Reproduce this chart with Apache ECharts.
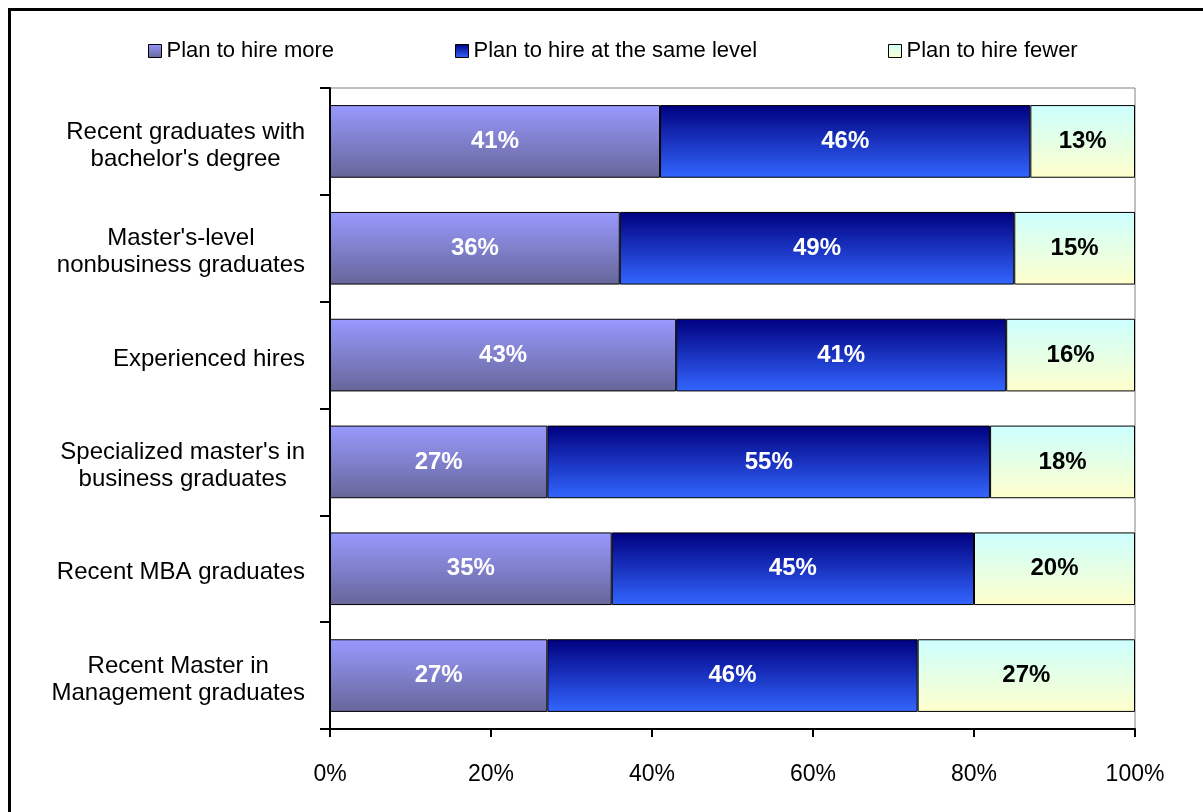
<!DOCTYPE html>
<html>
<head>
<meta charset="utf-8">
<script src="https://cdn.jsdelivr.net/npm/echarts@6/dist/echarts.min.js"></script>
<style>
html,body{margin:0;padding:0;background:#fff;}
#main{width:1203px;height:812px;}
</style>
</head>
<body>
<div id="main"></div>
<script>
var categories = [
  "Recent graduates with\nbachelor's degree",
  "Master's-level\nnonbusiness graduates",
  "Experienced hires",
  "Specialized master's in\nbusiness graduates",
  "Recent MBA graduates",
  "Recent Master in\nManagement graduates"
];
var seriesNames = ["Plan to hire more", "Plan to hire at the same level", "Plan to hire fewer"];
var hireMore = [41, 36, 43, 27, 35, 27];
var hireSame = [46, 49, 41, 55, 45, 46];
var hireFewer = [13, 15, 16, 18, 20, 27];
var xTicks = [0, 20, 40, 60, 80, 100];

var FONT = "'Liberation Sans', Arial, sans-serif";
function grad(top, bottom) {
  return new echarts.graphic.LinearGradient(0, 0, 0, 1, [
    {offset: 0, color: top}, {offset: 1, color: bottom}
  ]);
}
var fills = [grad('#9999FF', '#666699'), grad('#000080', '#3366FF'), grad('#CCFFFF', '#FFFFCC')];
var labelColors = ['#ffffff', '#ffffff', '#000000'];
var datasets = [hireMore, hireSame, hireFewer];
var legendLefts = [143, 450, 883];

var chart = echarts.init(document.getElementById('main'), null, {renderer: 'canvas'});
var option = {
  animation: false,
  backgroundColor: '#ffffff',
  graphic: [{
    type: 'rect',
    shape: {x: 9.5, y: 9.5, width: 1200, height: 810},
    style: {fill: 'none', stroke: '#000', lineWidth: 3},
    silent: true
  }],
  legend: seriesNames.map(function (n, i) {
    return {
      left: legendLefts[i],
      top: 35,
      itemWidth: 13,
      itemHeight: 13,
      icon: 'rect',
      textStyle: {fontFamily: FONT, fontSize: 22, color: '#000'},
      itemStyle: {borderColor: '#000', borderWidth: 1},
      data: [n]
    };
  }),
  grid: {
    left: 330, right: 68, top: 88, bottom: 83,
    show: true, borderColor: '#808080', borderWidth: 1, backgroundColor: 'transparent'
  },
  xAxis: {
    type: 'value',
    min: xTicks[0], max: xTicks[xTicks.length - 1], interval: 20,
    axisLine: {show: true, lineStyle: {color: '#000', width: 2}},
    axisTick: {show: true, inside: false, length: 8, lineStyle: {color: '#000', width: 2}},
    splitLine: {show: false},
    axisLabel: {formatter: '{value}%', fontFamily: FONT, fontSize: 23, color: '#000', margin: 34}
  },
  yAxis: {
    type: 'category',
    inverse: true,
    data: categories,
    axisLine: {show: true, lineStyle: {color: '#000', width: 2}},
    axisTick: {show: true, inside: false, length: 10, lineStyle: {color: '#000', width: 2}},
    axisLabel: {
      fontFamily: FONT, fontSize: 24, color: '#000', margin: 25, align: 'right',
      lineHeight: 27,
      padding: [8, 0, 0, 0],
      formatter: function (v) {
        return v.split('\n').map(function (l) { return '{c|' + l + '}'; }).join('\n');
      },
      rich: {c: {align: 'center', fontFamily: FONT, fontSize: 24, lineHeight: 27, color: '#000'}}
    }
  },
  series: datasets.map(function (d, i) {
    return {
      name: seriesNames[i],
      type: 'bar',
      stack: 'total',
      barCategoryGap: '32%',
      data: d,
      itemStyle: {color: fills[i], borderColor: '#000', borderWidth: 1},
      label: {
        show: true, position: 'inside',
        formatter: '{c}%',
        fontFamily: FONT, fontSize: 24, fontWeight: 'bold', color: labelColors[i]
      }
    };
  })
};
chart.setOption(option);
</script>
</body>
</html>
